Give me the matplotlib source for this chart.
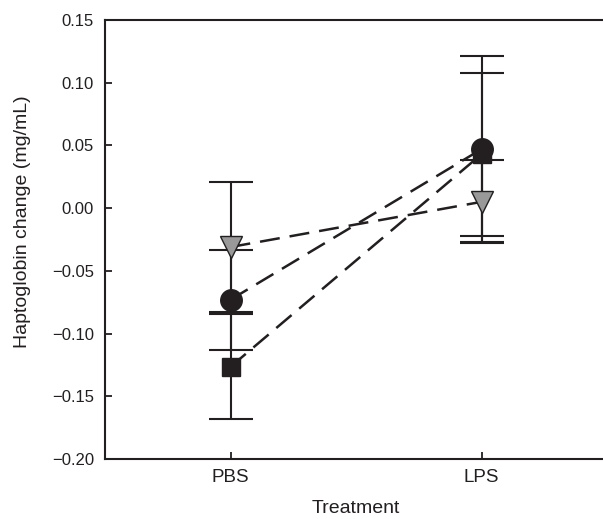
import matplotlib
matplotlib.use("Agg")
import matplotlib.pyplot as plt

plt.rcParams['font.family'] = ['Liberation Sans', 'DejaVu Sans']

categories = ["PBS", "LPS"]
x_pos = [0, 1]

circle_mean = [-0.073, 0.047]
circle_err = [0.040, 0.074]
square_mean = [-0.1265, 0.043]
square_err = [0.042, 0.065]
triangle_mean = [-0.031, 0.005]
triangle_err = [0.052, 0.033]

yticks = [-0.20, -0.15, -0.10, -0.05, 0.00, 0.05, 0.10, 0.15]

fig = plt.figure(figsize=(6.03, 5.19), dpi=100)
W, H = 603, 519
ax = fig.add_axes([105 / W, 1 - 459 / H, (607 - 105) / W, (459 - 20) / H])

ink = '#231f20'
dash = (0, (8, 4))

series = [
    (triangle_mean, triangle_err, 'v', '#999999', 16),
    (square_mean, square_err, 's', ink, 13.5),
    (circle_mean, circle_err, 'o', ink, 15.5),
]

for mean, err, m, fc, ms in series:
    ax.plot(x_pos, mean, linestyle=dash, color=ink, lw=1.8, zorder=2)
for mean, err, m, fc, ms in series:
    ax.errorbar(x_pos, mean, yerr=err, fmt='none', ecolor=ink, elinewidth=1.5,
                capsize=16, capthick=1.5, zorder=3)
z = 4
for mean, err, m, fc, ms in series:
    ax.plot(x_pos, mean, linestyle='none', marker=m, markersize=ms,
            markerfacecolor=fc, markeredgecolor=ink, markeredgewidth=1.0, zorder=z)
    z += 1

ax.set_xlim(-0.5, 1.5)
ax.set_ylim(-0.20, 0.15)
ax.set_xticks(x_pos)
ax.set_xticklabels(categories)
ax.set_yticks(yticks)
ax.set_yticklabels([f"{v:.2f}".replace('-', '\u2212') for v in yticks])

ax.spines['right'].set_visible(False)
for s in ['left', 'bottom', 'top']:
    ax.spines[s].set_linewidth(1.5)
    ax.spines[s].set_color(ink)

ax.tick_params(direction='in', length=5, width=1.3, color=ink,
               labelcolor=ink)
ax.tick_params(axis='y', labelsize=12, pad=8)
ax.tick_params(axis='x', labelsize=13.5, pad=7)
ax.set_xlabel("Treatment", fontsize=14, color=ink, labelpad=10)
ax.set_ylabel("Haptoglobin change (mg/mL)", fontsize=14, color=ink)
ax.yaxis.set_label_coords(-0.147, 0.54)

fig.savefig("out.png", dpi=100)
